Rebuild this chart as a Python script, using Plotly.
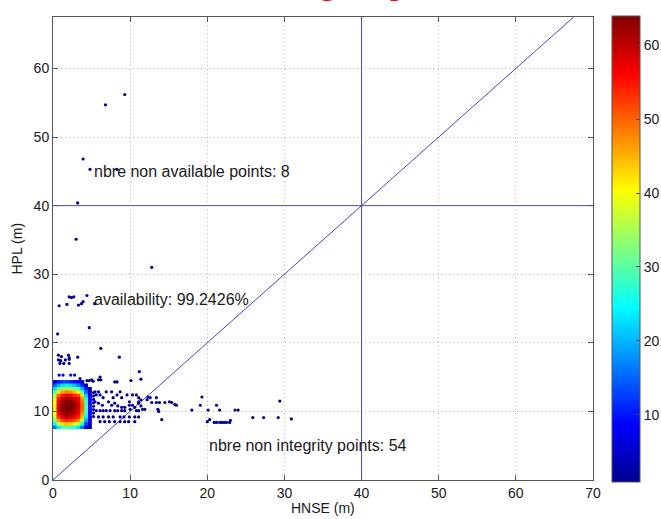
import plotly.graph_objects as go

# ---------------- data ----------------
# dense core (2D histogram bins, 0.5 m), rows top->bottom
core_x = [0.25, 0.75, 1.25, 1.75, 2.25, 2.75, 3.25, 3.75, 4.25, 4.75]
core_y = [14.25, 13.75, 13.25, 12.75, 12.25, 11.75, 11.25, 10.75, 10.25, 9.75, 9.25, 8.75, 8.25, 7.75]
core_counts = [
    [6, 10, 12, 12, 11, 9, 7, 4, 0, 0],
    [14, 20, 23, 24, 23, 21, 17, 11, 5, 0],
    [22, 30, 34, 35, 34, 32, 28, 20, 10, 3],
    [30, 42, 46, 48, 47, 44, 40, 30, 15, 5],
    [35, 50, 55, 57, 56, 54, 52, 42, 22, 7],
    [38, 55, 60, 62, 61, 59, 57, 47, 27, 9],
    [40, 57, 63, 64, 64, 62, 58, 49, 29, 10],
    [41, 58, 64, 64, 64, 63, 59, 50, 30, 10],
    [41, 58, 63, 64, 64, 62, 58, 49, 29, 10],
    [40, 56, 61, 63, 62, 60, 57, 47, 27, 9],
    [37, 53, 58, 60, 59, 57, 54, 44, 24, 8],
    [32, 46, 52, 54, 53, 51, 47, 37, 19, 6],
    [25, 36, 42, 44, 43, 41, 36, 27, 13, 4],
    [16, 24, 28, 30, 29, 27, 23, 16, 8, 2],
]

# sparse points (HNSE, HPL, count)
pts_hnse = [6.8, 9.3, 3.9, 3.2, 3.0, 4.8, 8.3, 12.8,
            0.8, 1.8, 2.1, 2.4, 2.7, 3.3, 3.7, 3.9, 4.4, 5.4, 4.7, 0.6, 6.2, 8.6, 3.2,
            0.7, 1.1, 2.0, 2.1, 0.7, 1.0, 1.6, 2.1, 0.9, 1.4, 2.1,
            0.8, 1.3, 2.3, 2.8, 3.5, 4.4, 4.7, 5.0, 5.2, 5.9, 6.2, 6.1,
            11.2, 11.4, 10.1, 8.0, 8.3,
            5.45, 5.9, 6.9, 7.6, 8.7,
            5.6, 6.1, 8.3, 9.6, 10.3, 10.8,
            6.5, 7.8, 8.9, 11.1, 12.6, 13.4,
            11.4, 12.2,
            5.45, 7.2, 11.1, 9.9,
            5.9, 8.0, 11.1,
            6.4, 7.6, 10.3, 9.9,
            8.4, 11.4,
            8.9, 9.3, 10.6,
            11.6, 11.9, 13.6, 10.0,
            5.6, 6.1, 6.5, 6.9, 7.4, 8.0, 8.4, 8.9, 9.3, 10.8, 11.1,
            5.9, 6.5, 7.2, 7.8, 8.7, 9.2, 9.9, 10.6, 11.1,
            6.1, 6.7, 7.3, 8.0, 8.7, 9.3, 9.8, 10.6,
            5.25, 5.25, 5.25, 5.25, 5.25, 5.25, 5.25, 5.25,
            12.3, 12.8, 13.4, 13.8, 14.5, 15.1, 15.4, 15.8, 16.0, 13.7, 14.1,
            18.0, 19.1, 19.3, 20.1, 21.2, 21.6, 23.6, 24.0, 20.0, 20.3, 20.9, 21.2,
            21.6, 21.9, 22.2, 22.5, 22.9, 23.0, 25.9, 27.3, 29.2, 30.9, 29.4]
pts_hpl = [54.7, 56.2, 46.8, 40.4, 35.1, 45.3, 45.3, 31.0,
           25.4, 25.6, 26.7, 26.6, 26.7, 25.5, 25.7, 26.0, 26.9, 25.7, 22.2, 21.3, 19.2, 17.9, 17.9,
           18.2, 18.0, 18.2, 17.8, 17.5, 17.4, 17.5, 17.6, 17.0, 17.0, 17.0,
           15.3, 15.3, 15.3, 15.3, 14.8, 14.5, 14.5, 14.6, 14.4, 14.6, 14.6, 15.0,
           15.8, 14.7, 14.5, 14.3, 14.3,
           12.85, 12.85, 12.85, 12.85, 12.85,
           12.4, 12.4, 12.4, 12.4, 12.4, 12.4,
           12.0, 12.0, 12.0, 12.0, 12.0, 12.0,
           11.7, 11.7,
           11.4, 11.4, 11.4, 11.4,
           11.2, 11.2, 11.2,
           10.9, 10.9, 10.9, 10.9,
           10.8, 10.8,
           10.6, 10.6, 10.6,
           10.3, 10.3, 10.3, 10.3,
           10.1, 10.1, 10.1, 10.1, 10.1, 10.1, 10.1, 10.1, 10.1, 10.1, 10.1,
           9.2, 9.2, 9.2, 9.2, 9.2, 9.2, 9.2, 9.2, 9.2,
           8.5, 8.5, 8.5, 8.5, 8.5, 8.5, 8.5, 8.5,
           9.25, 9.75, 10.25, 10.75, 11.25, 11.75, 12.25, 12.75,
           12.1, 11.3, 11.3, 11.3, 11.3, 11.4, 11.3, 11.0, 10.9, 10.0, 8.8,
           10.2, 10.9, 12.1, 10.2, 10.9, 10.2, 10.2, 10.2, 8.5, 8.8, 8.4, 8.4,
           8.4, 8.4, 8.4, 8.4, 8.4, 8.7, 9.1, 9.1, 9.1, 8.9, 11.5]
pts_count = [1, 1, 1, 1, 1, 1, 1, 1,
             1, 1, 1, 1, 1, 1, 1, 1, 1, 1, 1, 1, 1, 1, 1,
             1, 1, 1, 1, 1, 1, 1, 1, 1, 1, 1,
             6, 8, 7, 5, 2, 3, 2, 2, 1, 1, 1, 1,
             1, 1, 1, 1, 1,
             2, 1, 1, 1, 1,
             2, 2, 1, 1, 1, 1,
             2, 1, 1, 1, 1, 1,
             1, 1,
             3, 2, 1, 1,
             3, 2, 1,
             3, 2, 1, 1,
             1, 1,
             1, 1, 1,
             1, 1, 1, 1,
             4, 3, 3, 2, 2, 1, 1, 1, 1, 1, 1,
             3, 2, 2, 1, 1, 1, 1, 1, 1,
             2, 1, 1, 1, 1, 1, 1, 1,
             4, 5, 6, 6, 6, 5, 4, 3,
             1, 1, 1, 1, 1, 1, 1, 1, 1, 1, 1,
             1, 1, 1, 1, 1, 1, 1, 1, 1, 1, 1, 1,
             1, 1, 1, 1, 1, 1, 1, 1, 1, 1, 1]

alert_limit = 40
x_max, y_max = 70, 67.5
c_min, c_max = 1, 64
x_ticks = [0, 10, 20, 30, 40, 50, 60, 70]
y_ticks = [0, 10, 20, 30, 40, 50, 60]
cbar_ticks = [10, 20, 30, 40, 50, 60]

txt_unavail = "nbre non available points: 8"
txt_avail = "availability: 99.2426%"
txt_integ = "nbre non integrity points: 54"
x_title = "HNSE (m)"
y_title = "HPL (m)"

# ---------------- figure ----------------
jet = [[0.0, "#00008F"], [0.125, "#0000FF"], [0.375, "#00FFFF"],
       [0.625, "#FFFF00"], [0.875, "#FF0000"], [1.0, "#800000"]]

cx, cy, cc = [], [], []
for r, yv in enumerate(core_y):
    for c, xv in enumerate(core_x):
        if core_counts[r][c] > 0:
            cx.append(xv); cy.append(yv); cc.append(core_counts[r][c])
order = sorted(range(len(cc)), key=lambda i: cc[i])
cx = [cx[i] for i in order]; cy = [cy[i] for i in order]; cc = [cc[i] for i in order]

LINE = "#4848bc"
fig = go.Figure()
# reference lines
fig.add_trace(go.Scatter(x=[0, y_max], y=[0, y_max], mode="lines",
                         line=dict(color=LINE, width=1), hoverinfo="skip", showlegend=False))
fig.add_trace(go.Scatter(x=[0, x_max], y=[alert_limit, alert_limit], mode="lines",
                         line=dict(color=LINE, width=1), hoverinfo="skip", showlegend=False))
fig.add_trace(go.Scatter(x=[alert_limit, alert_limit], y=[0, y_max], mode="lines",
                         line=dict(color=LINE, width=1), hoverinfo="skip", showlegend=False))

fig.add_trace(go.Scatter(x=pts_hnse, y=pts_hpl, mode="markers", showlegend=False,
                         marker=dict(size=3.2, symbol="circle", color=pts_count, coloraxis="coloraxis",
                                     line=dict(width=0))))
fig.add_trace(go.Scatter(x=cx, y=cy, mode="markers", showlegend=False,
                         marker=dict(size=4.4, symbol="square", color=cc, coloraxis="coloraxis",
                                     line=dict(width=0))))

FONT = "Liberation Sans, Arial, sans-serif"
TXT = "#1a1a1a"
for tx, ty, t in [(5, 45, txt_unavail), (5, 26.3, txt_avail), (20, 5.1, txt_integ)]:
    fig.add_annotation(x=tx, y=ty, text=t, showarrow=False, xanchor="left", yanchor="middle",
                       font=dict(family=FONT, size=16, color=TXT))

# axis titles
fig.add_annotation(xref="paper", yref="paper", x=0.5, y=-0.0605, text=x_title, showarrow=False,
                   xanchor="center", yanchor="middle", font=dict(family=FONT, size=14, color=TXT))
fig.add_annotation(xref="paper", yref="paper", x=-0.0685, y=0.5, text=y_title, showarrow=False,
                   textangle=-90, xanchor="center", yanchor="middle",
                   font=dict(family=FONT, size=14, color=TXT))

# cut-off red title
fig.add_annotation(xref="paper", yref="paper", x=0.5, y=1.0295, text="<b>Integrity</b>",
                   showarrow=False, xanchor="center", yanchor="bottom",
                   font=dict(family=FONT, size=46, color="#ff0000"))

axis_common = dict(showline=True, linecolor="#555", linewidth=1, mirror="ticks",
                   ticks="inside", ticklen=5, tickcolor="#555", automargin=False,
                   showgrid=True, gridcolor="#b4b4b4", griddash="1px,3px", gridwidth=1,
                   zeroline=False, tickfont=dict(family=FONT, size=14, color=TXT))

fig.update_layout(
    width=661, height=519,
    margin=dict(l=53, r=68, t=17, b=39, autoexpand=False),
    paper_bgcolor="white", plot_bgcolor="white",
    xaxis=dict(range=[0, x_max], tickvals=x_ticks, **axis_common),
    yaxis=dict(range=[0, y_max], tickvals=y_ticks, **axis_common),
    coloraxis=dict(colorscale=jet, cmin=c_min, cmax=c_max,
                   colorbar=dict(x=1.035, xanchor="left", y=0.5, yanchor="middle",
                                 thickness=28, thicknessmode="pixels",
                                 len=466, lenmode="pixels",
                                 tickvals=cbar_ticks, ticks="inside", ticklen=4, tickcolor="#444",
                                 outlinecolor="#555", outlinewidth=1,
                                 tickfont=dict(family=FONT, size=14, color=TXT),
                                 xpad=0, ypad=0)),
)

fig.write_html("out.html", config={"displayModeBar": False},
               post_script="document.body.style.margin='0';")
